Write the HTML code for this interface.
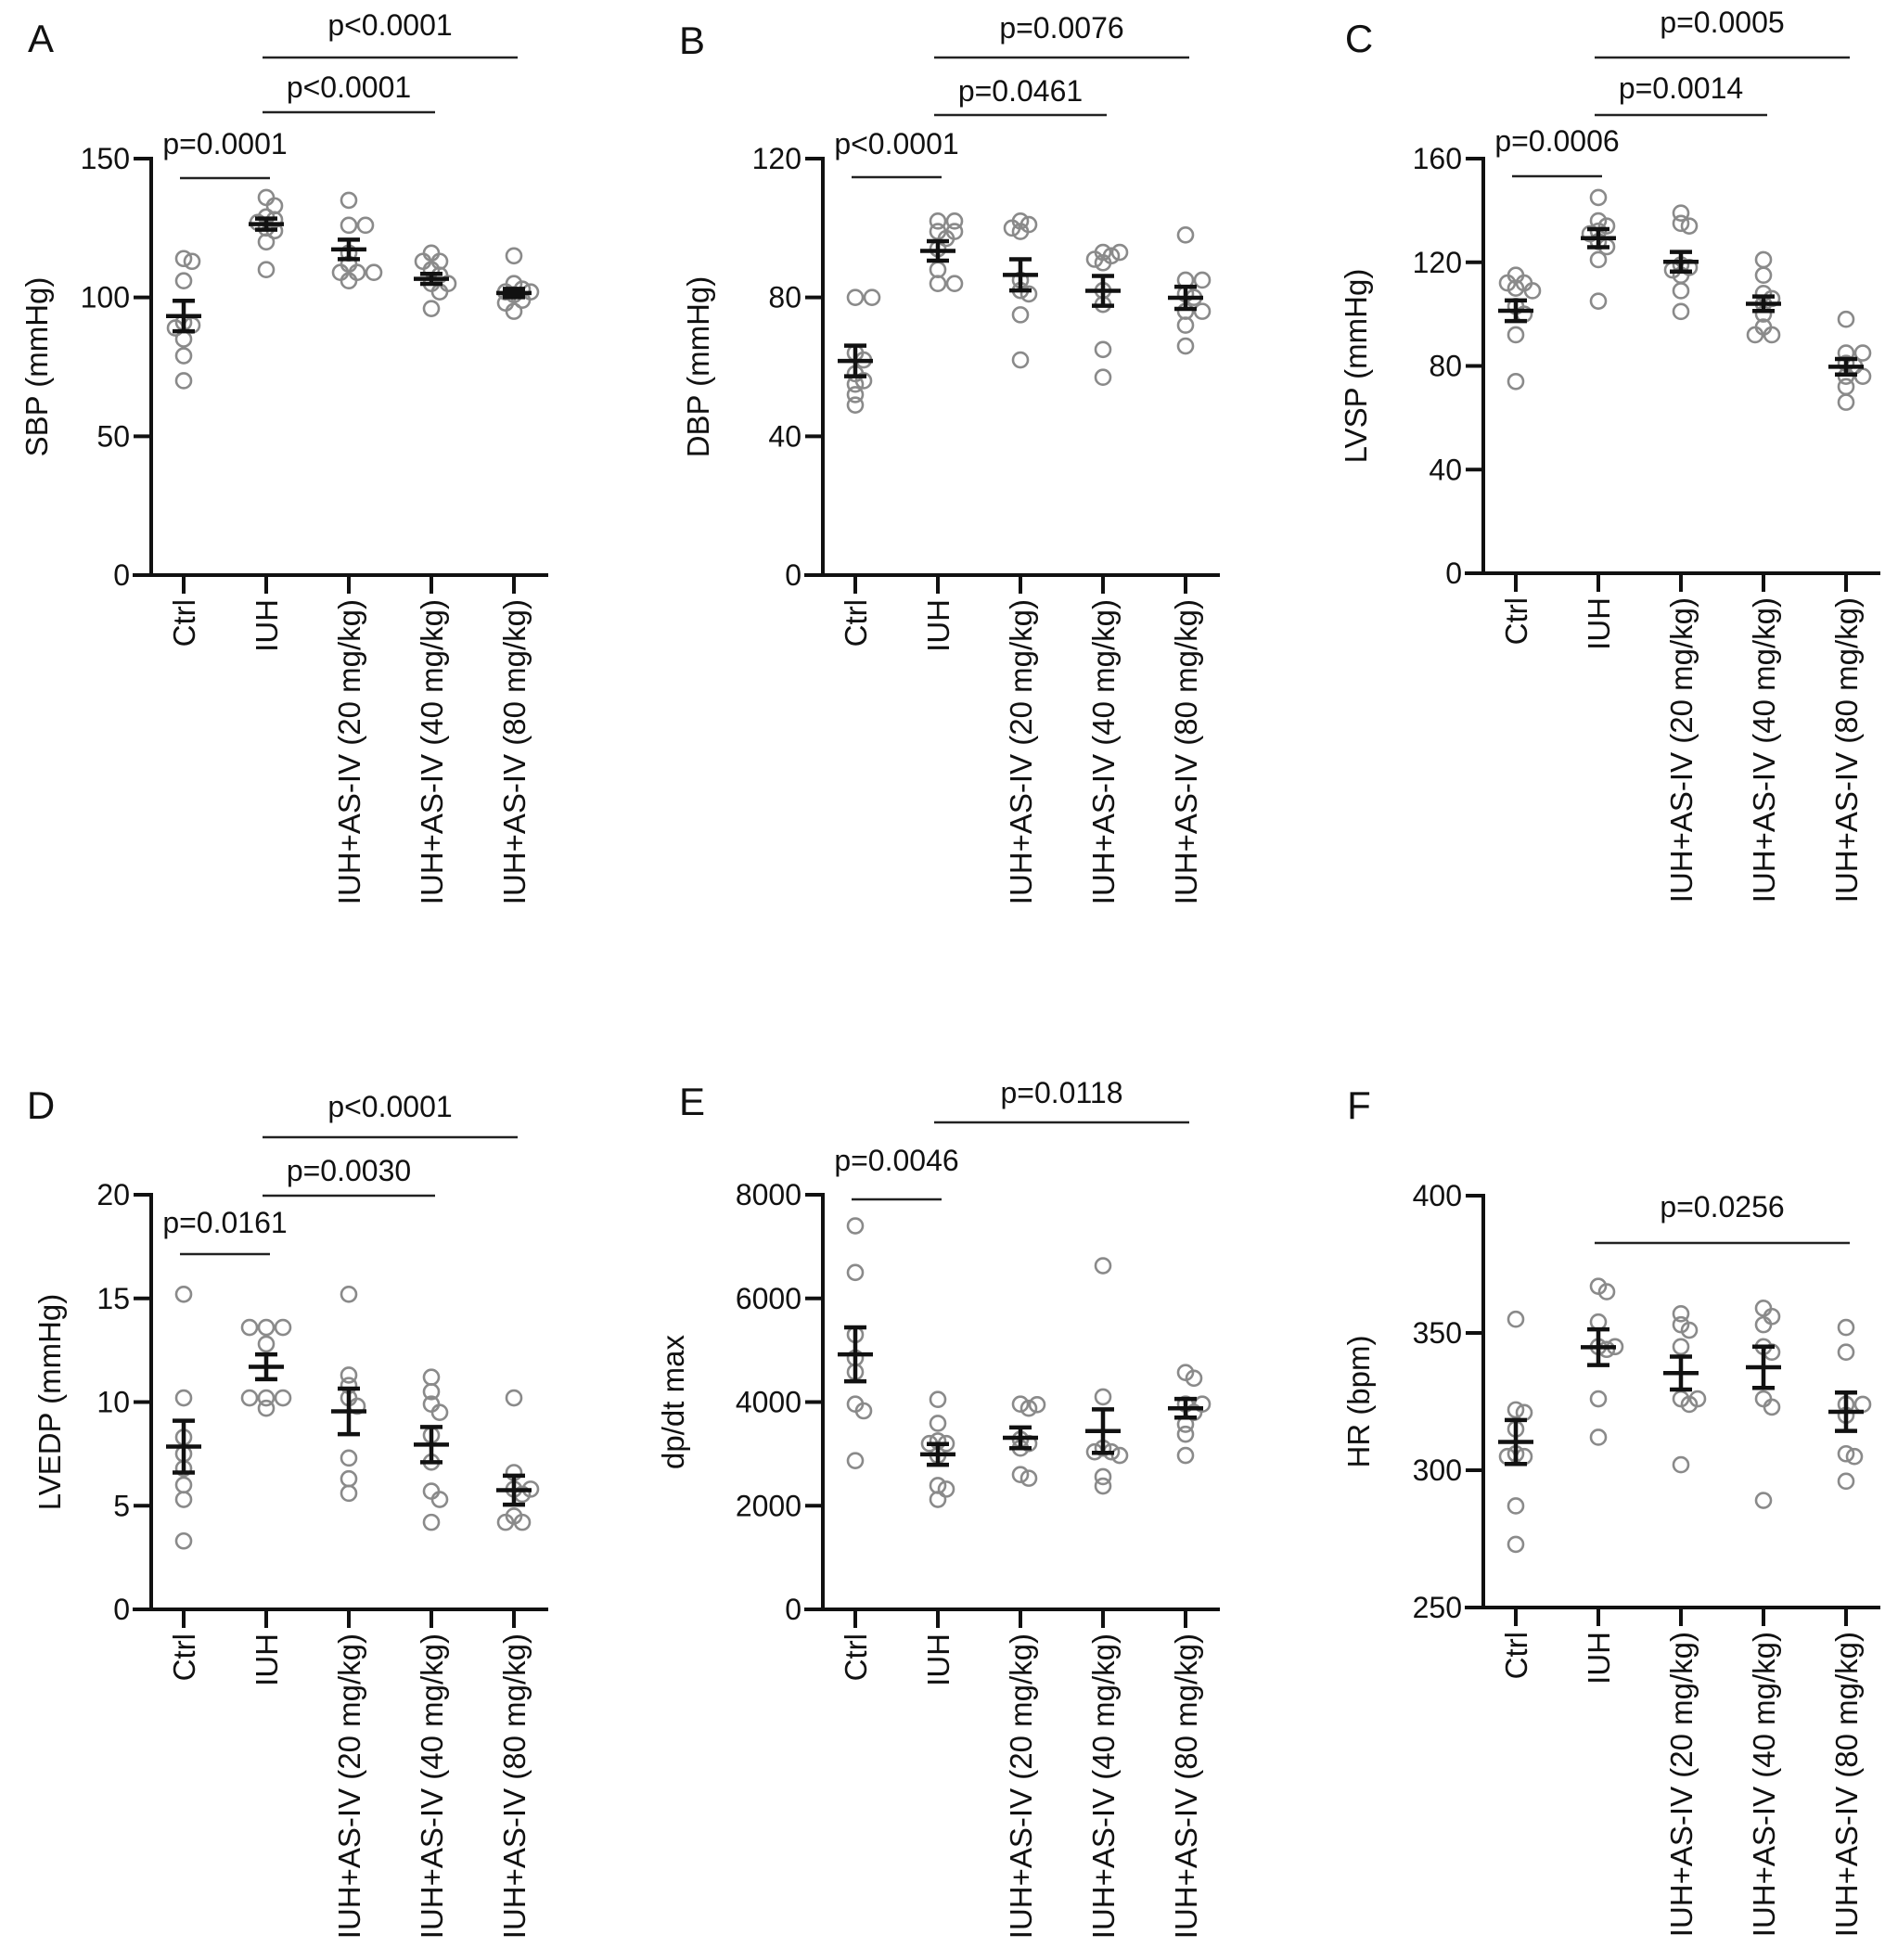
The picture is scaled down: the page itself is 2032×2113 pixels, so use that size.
<!DOCTYPE html>
<html><head><meta charset="utf-8">
<style>
html,body{margin:0;padding:0;background:#fff;}
svg{display:block;font-family:"Liberation Sans",Arial,sans-serif;}
</style></head>
<body>
<svg id="fig" width="2032" height="2113" viewBox="0 0 2032 2113" xmlns="http://www.w3.org/2000/svg"></svg>
<script>
const categories = ["Ctrl","IUH","IUH+AS-IV (20 mg/kg)","IUH+AS-IV (40 mg/kg)","IUH+AS-IV (80 mg/kg)"];

const sbpValues = [[114,113,106,91,90,89,85,79,70],[136,133,129,128,127,125,124,120,110],[135,126,126,116,112,109,109,109,106],[116,113,113,110,108,105,105,102,96],[115,105,103,102,102,101,99,98,95]];
const sbpMeans = [93.3,126.4,117.3,106.7,101.6];
const sbpSem = [5.5,2,3.5,1.8,1.5];
const sbpTicks = [0,50,100,150];

const dbpValues = [[80,80,64,62,58,56,55,52,49],[102,102,99,99,97,94,88,84,84],[102,101,100,99,85,82,81,75,62],[93,93,92,91,90,82,78,65,57],[98,85,85,81,80,76,76,72,66]];
const dbpMeans = [61.7,93.4,86.5,81.9,79.9];
const dbpSem = [4.4,2.8,4.5,4.3,3.2];
const dbpTicks = [0,40,80,120];

const lvspValues = [[115,112,112,110,109,103,100,92,74],[145,136,134,132,131,128,126,121,105],[139,135,134,119,118,117,115,109,101],[121,115,108,106,104,100,95,92,92],[98,85,85,81,80,76,76,72,66]];
const lvspMeans = [101.3,129.3,120.2,104,79.7];
const lvspSem = [4,3.5,3.8,2.8,3];
const lvspTicks = [0,40,80,120,160];

const lvedpValues = [[15.2,10.2,8.3,7.5,6.8,6.0,5.3,3.3],[13.6,13.6,13.6,12.8,10.2,10.2,10.2,9.7],[15.2,11.3,10.8,10.2,9.8,7.3,6.3,5.6],[11.2,10.5,9.9,9.5,8.4,7.1,5.7,5.3,4.2],[10.2,6.6,5.8,5.8,5.55,4.5,4.2,4.2]];
const lvedpMeans = [7.85,11.7,9.55,7.95,5.75];
const lvedpSem = [1.25,0.6,1.1,0.85,0.7];
const lvedpTicks = [0,5,10,15,20];

const dpdtValues = [[7400,6500,5300,4850,4580,3960,3830,2870],[4050,3590,3250,3200,3200,2970,2390,2320,2120],[3960,3950,3880,3280,3200,3110,2600,2530],[6630,4100,3110,3040,3040,2970,2560,2380],[4570,4460,3960,3960,3800,3570,3380,2970]];
const dpdtMeans = [4920,2990,3310,3440,3880];
const dpdtSem = [520,200,200,420,180];
const dpdtTicks = [0,2000,4000,6000,8000];

const hrValues = [[355,322,321,315,306,305,305,287,273],[367,365,354,345,345,344,326,312],[357,353,351,345,326,326,324,302],[359,356,353,345,343,326,323,289],[352,343,324,324,320,306,305,296]];
const hrMeans = [310.3,344.8,335.4,337.5,321.3];
const hrSem = [8,6.5,6,7.5,7];
const hrTicks = [250,300,350,400];

const panels = [
 {id:"a",letter:"A",title:"SBP (mmHg)",values:sbpValues,means:sbpMeans,sem:sbpSem,ticks:sbpTicks,ox:163,top:171,bot:620,titleX:40,letterX:44,letterY:56,
  sig:[{t:"p=0.0001",a:0,b:1,ly:192,ty:166},{t:"p<0.0001",a:1,b:3,ly:121,ty:105},{t:"p<0.0001",a:1,b:4,ly:62,ty:38}]},
 {id:"b",letter:"B",title:"DBP (mmHg)",values:dbpValues,means:dbpMeans,sem:dbpSem,ticks:dbpTicks,ox:887,top:171,bot:620,titleX:753,letterX:746,letterY:58,
  sig:[{t:"p<0.0001",a:0,b:1,ly:191,ty:166},{t:"p=0.0461",a:1,b:3,ly:124,ty:109},{t:"p=0.0076",a:1,b:4,ly:62,ty:41}]},
 {id:"c",letter:"C",title:"LVSP (mmHg)",values:lvspValues,means:lvspMeans,sem:lvspSem,ticks:lvspTicks,ox:1599,top:171,bot:618,titleX:1462,letterX:1465,letterY:56,
  sig:[{t:"p=0.0006",a:0,b:1,ly:190,ty:163},{t:"p=0.0014",a:1,b:3,ly:124,ty:106},{t:"p=0.0005",a:1,b:4,ly:62,ty:35}]},
 {id:"d",letter:"D",title:"LVEDP (mmHg)",values:lvedpValues,means:lvedpMeans,sem:lvedpSem,ticks:lvedpTicks,ox:163,top:1288,bot:1735,titleX:54,letterX:44,letterY:1206,
  sig:[{t:"p=0.0161",a:0,b:1,ly:1352,ty:1329},{t:"p=0.0030",a:1,b:3,ly:1289,ty:1273},{t:"p<0.0001",a:1,b:4,ly:1226,ty:1204}]},
 {id:"e",letter:"E",title:"dp/dt max",values:dpdtValues,means:dpdtMeans,sem:dpdtSem,ticks:dpdtTicks,ox:887,top:1288,bot:1735,titleX:726,letterX:746,letterY:1202,
  sig:[{t:"p=0.0046",a:0,b:1,ly:1293,ty:1262},{t:"p=0.0118",a:1,b:4,ly:1210,ty:1189}]},
 {id:"f",letter:"F",title:"HR (bpm)",values:hrValues,means:hrMeans,sem:hrSem,ticks:hrTicks,ox:1599,top:1289,bot:1733,titleX:1465,letterX:1465,letterY:1206,
  sig:[{t:"p=0.0256",a:1,b:4,ly:1340,ty:1312}]}
];

const NS="http://www.w3.org/2000/svg";
const svg=document.getElementById('fig');
function mk(tag,attrs,parent){const e=document.createElementNS(NS,tag);for(const k in attrs)e.setAttribute(k,attrs[k]);(parent||svg).appendChild(e);return e;}

panels.forEach(p=>{
  const g=mk('g',{});
  
  
  const lo=p.ticks[0], hi=p.ticks[p.ticks.length-1];
  const y=v=>p.bot-(v-lo)/(hi-lo)*(p.bot-p.top);
  const x=i=>p.ox+35+i*89;
  const L=mk('text',{x:p.letterX,y:p.letterY,'font-size':42,'text-anchor':'middle',fill:'#111'},g);
  L.textContent=p.letter;
  
  
  const ya=mk('line',{x1:p.ox,y1:p.top-2,x2:p.ox,y2:p.bot+2,stroke:'#111','stroke-width':4},g);
  
  
  const xa=mk('line',{x1:p.ox-20,y1:p.bot,x2:x(4)+37,y2:p.bot,stroke:'#111','stroke-width':4},g);
  
  
  p.ticks.forEach(t=>{
    const tl=mk('line',{x1:p.ox-19,y1:y(t),x2:p.ox,y2:y(t),stroke:'#111','stroke-width':4},g);
    
    
    const tx=mk('text',{x:p.ox-23,y:y(t)+11,'font-size':32,'text-anchor':'end',fill:'#111'},g);
    tx.textContent=t;
    
    
  });
  const cy=(p.top+p.bot)/2;
  const yt=mk('text',{x:p.titleX,y:cy,'font-size':33,'text-anchor':'middle',fill:'#111',transform:`rotate(-90 ${p.titleX} ${cy})`,dy:11},g);
  yt.textContent=p.title;
  
  
  categories.forEach((c,i)=>{
    const ct=mk('line',{x1:x(i),y1:p.bot,x2:x(i),y2:p.bot+20,stroke:'#111','stroke-width':4},g);
    
    
    const ty=p.bot+26, tx=x(i)+12;
    const cl=mk('text',{x:tx,y:ty,'font-size':33,'text-anchor':'end',fill:'#111',transform:`rotate(-90 ${tx} ${ty})`},g);
    cl.textContent=c;
    
    
    const r=8, placed=[];
    p.values[i].forEach(v=>{
      const py=y(v);
      let off=0;
      const cands=[0];
      for(let k=1;k<8;k++){cands.push(k*9,-k*9);}
      for(const o of cands){
        if(placed.every(q=>Math.hypot(q[0]-o,q[1]-py)>=1.15*r)){off=o;break;}
      }
      placed.push([off,py]);
      const cc=mk('circle',{cx:x(i)+off,cy:py,r:r,fill:'none',stroke:'#8a8a8a','stroke-width':2.6},g);
      
      
    });
    const m=p.means[i], s=p.sem[i];
    const eb=mk('path',{d:`M${x(i)-19},${y(m)}H${x(i)+19}M${x(i)},${y(m+s)}V${y(m-s)}M${x(i)-12},${y(m+s)}H${x(i)+12}M${x(i)-12},${y(m-s)}H${x(i)+12}`,stroke:'#111','stroke-width':4.5,fill:'none'},g);
    
    
  });
  p.sig.forEach(s=>{
    const sl=mk('line',{x1:x(s.a)-4,y1:s.ly,x2:x(s.b)+4,y2:s.ly,stroke:'#222','stroke-width':2.5},g);
    
    
    const st=mk('text',{x:(x(s.a)+x(s.b))/2,y:s.ty,'font-size':32,'text-anchor':'middle',fill:'#111'},g);
    st.textContent=s.t;
    
    
  });
});
</script>
</body></html>
